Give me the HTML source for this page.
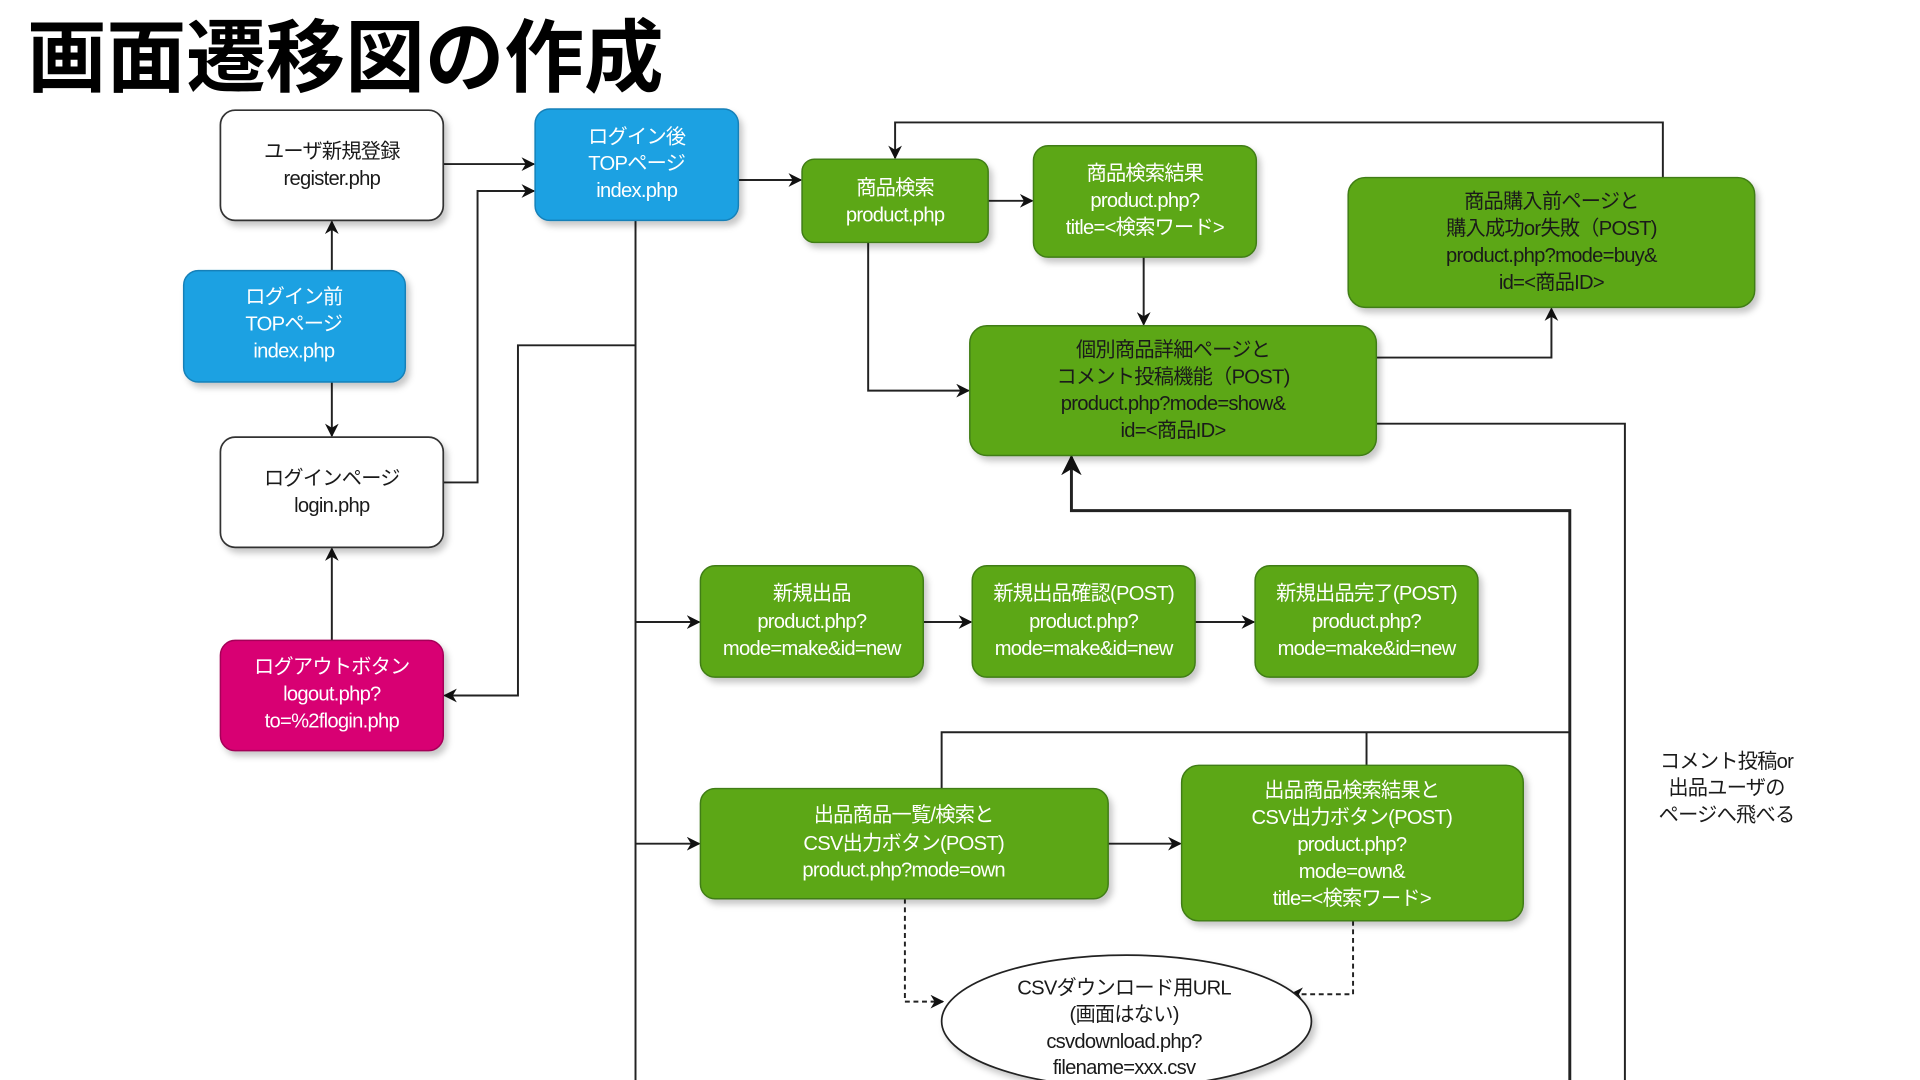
<!DOCTYPE html>
<html><head><meta charset="utf-8"><style>
html,body{margin:0;padding:0;background:#fff;width:1920px;height:1080px;overflow:hidden}
svg{display:block}
text{font-family:"Liberation Sans","Noto Sans CJK JP",sans-serif;font-size:16.5px;text-anchor:middle;letter-spacing:-0.6px}
.w{fill:#fff}.d{fill:#1a1a1a}
.ln{stroke:#222;stroke-width:1.6;fill:none}
.g{fill:#5ba719;stroke:#3f7d12;stroke-width:1.2}
.b{fill:#1ba1e2;stroke:#1580b8;stroke-width:1.2}
.m{fill:#d80073;stroke:#a50058;stroke-width:1.2}
.wb{fill:#fff;stroke:#333;stroke-width:1.4}
</style></head><body>
<svg width="1920" height="1080" viewBox="0 0 1568 882" preserveAspectRatio="none">
<defs>
<marker id="a" viewBox="0 0 10 10" refX="9" refY="5" markerWidth="7" markerHeight="7" orient="auto"><path d="M0,0 L10,5 L0,10 L3,5z" fill="#111"/></marker>
<filter id="s" x="-10%" y="-10%" width="130%" height="140%"><feDropShadow dx="3" dy="4" stdDeviation="2.5" flood-color="#000" flood-opacity="0.22"/></filter>
</defs>
<text x="22" y="70" style="font-size:65px;font-weight:bold;text-anchor:start;letter-spacing:0px;font-family:'Noto Sans CJK JP',sans-serif">画面遷移図の作成</text>

<g class="ln">
<path d="M362,134 H436" marker-end="url(#a)"/>
<path d="M362,394 H390 V156 H436" marker-end="url(#a)"/>
<path d="M271,221 V181" marker-end="url(#a)"/>
<path d="M271,312 V356" marker-end="url(#a)"/>
<path d="M271,523 V448" marker-end="url(#a)"/>
<path d="M519,180 V882"/>
<path d="M519,282 H423 V568 H363" marker-end="url(#a)"/>
<path d="M519,508 H571" marker-end="url(#a)"/>
<path d="M519,689 H571" marker-end="url(#a)"/>
<path d="M603,147 H654" marker-end="url(#a)"/>
<path d="M807,164 H843" marker-end="url(#a)"/>
<path d="M709,198 V319 H791" marker-end="url(#a)"/>
<path d="M934,210 V265" marker-end="url(#a)"/>
<path d="M1124,292 H1267 V252" marker-end="url(#a)"/>
<path d="M1358,145 V100 H731 V129" marker-end="url(#a)"/>
<path d="M1124,346 H1327 V882"/>
<path d="M1282,882 V417 H875 V373" style="stroke-width:2.4" marker-end="url(#a)"/>
<path d="M754,508 H793" marker-end="url(#a)"/>
<path d="M976,508 H1024" marker-end="url(#a)"/>
<path d="M769,644 V598 H1282"/>
<path d="M1116,625 V598"/>
<path d="M905,689 H964" marker-end="url(#a)"/>
<path d="M739,734 V818 H770" stroke-dasharray="4,3" marker-end="url(#a)"/>
<path d="M1105,752 V812 H1054" stroke-dasharray="4,3" marker-end="url(#a)"/>
</g>

<g filter="url(#s)">
<rect class="wb" x="180" y="90" width="182" height="90" rx="12"/>
<rect class="b" x="437" y="89" width="166" height="91" rx="12"/>
<rect class="b" x="150" y="221" width="181" height="91" rx="12"/>
<rect class="wb" x="180" y="357" width="182" height="90" rx="12"/>
<rect class="m" x="180" y="523" width="182" height="90" rx="12"/>
<rect class="g" x="655" y="130" width="152" height="68" rx="10"/>
<rect class="g" x="844" y="119" width="182" height="91" rx="12"/>
<rect class="g" x="1101" y="145" width="332" height="106" rx="14"/>
<rect class="g" x="792" y="266" width="332" height="106" rx="14"/>
<rect class="g" x="572" y="462" width="182" height="91" rx="12"/>
<rect class="g" x="794" y="462" width="182" height="91" rx="12"/>
<rect class="g" x="1025" y="462" width="182" height="91" rx="12"/>
<rect class="g" x="572" y="644" width="333" height="90" rx="12"/>
<rect class="g" x="965" y="625" width="279" height="127" rx="14"/>
<ellipse cx="920" cy="834" rx="151" ry="54" fill="#fff" stroke="#222" stroke-width="1.4"/>
</g>

<text class="d" x="271" y="129">ユーザ新規登録</text><text class="d" x="271" y="151">register.php</text>
<text class="w" x="520" y="117">ログイン後</text><text class="w" x="520" y="139">TOPページ</text><text class="w" x="520" y="161">index.php</text>
<text class="w" x="240" y="248">ログイン前</text><text class="w" x="240" y="270">TOPページ</text><text class="w" x="240" y="292">index.php</text>
<text class="d" x="271" y="396">ログインページ</text><text class="d" x="271" y="418">login.php</text>
<text class="w" x="271" y="550">ログアウトボタン</text><text class="w" x="271" y="572">logout.php?</text><text class="w" x="271" y="594">to=%2flogin.php</text>
<text class="w" x="731" y="159">商品検索</text><text class="w" x="731" y="181">product.php</text>
<text class="w" x="935" y="147">商品検索結果</text><text class="w" x="935" y="169">product.php?</text><text class="w" x="935" y="191">title=&lt;検索ワード&gt;</text>
<text class="d" x="1267" y="170">商品購入前ページと</text><text class="d" x="1267" y="192">購入成功or失敗（POST)</text><text class="d" x="1267" y="214">product.php?mode=buy&amp;</text><text class="d" x="1267" y="236">id=&lt;商品ID&gt;</text>
<text class="d" x="958" y="291">個別商品詳細ページと</text><text class="d" x="958" y="313">コメント投稿機能（POST)</text><text class="d" x="958" y="335">product.php?mode=show&amp;</text><text class="d" x="958" y="357">id=&lt;商品ID&gt;</text>
<text class="w" x="663" y="490">新規出品</text><text class="w" x="663" y="513">product.php?</text><text class="w" x="663" y="535">mode=make&amp;id=new</text>
<text class="w" x="885" y="490">新規出品確認(POST)</text><text class="w" x="885" y="513">product.php?</text><text class="w" x="885" y="535">mode=make&amp;id=new</text>
<text class="w" x="1116" y="490">新規出品完了(POST)</text><text class="w" x="1116" y="513">product.php?</text><text class="w" x="1116" y="535">mode=make&amp;id=new</text>
<text class="w" x="738" y="671">出品商品一覧/検索と</text><text class="w" x="738" y="694">CSV出力ボタン(POST)</text><text class="w" x="738" y="716">product.php?mode=own</text>
<text class="w" x="1104" y="651">出品商品検索結果と</text><text class="w" x="1104" y="673">CSV出力ボタン(POST)</text><text class="w" x="1104" y="695">product.php?</text><text class="w" x="1104" y="717">mode=own&amp;</text><text class="w" x="1104" y="739">title=&lt;検索ワード&gt;</text>
<text class="d" x="918" y="812">CSVダウンロード用URL</text><text class="d" x="918" y="834">(画面はない)</text><text class="d" x="918" y="856">csvdownload.php?</text><text class="d" x="918" y="877">filename=xxx.csv</text>
<text class="d" x="1410" y="627">コメント投稿or</text><text class="d" x="1410" y="649">出品ユーザの</text><text class="d" x="1410" y="671">ページへ飛べる</text>
</svg>
</body></html>
